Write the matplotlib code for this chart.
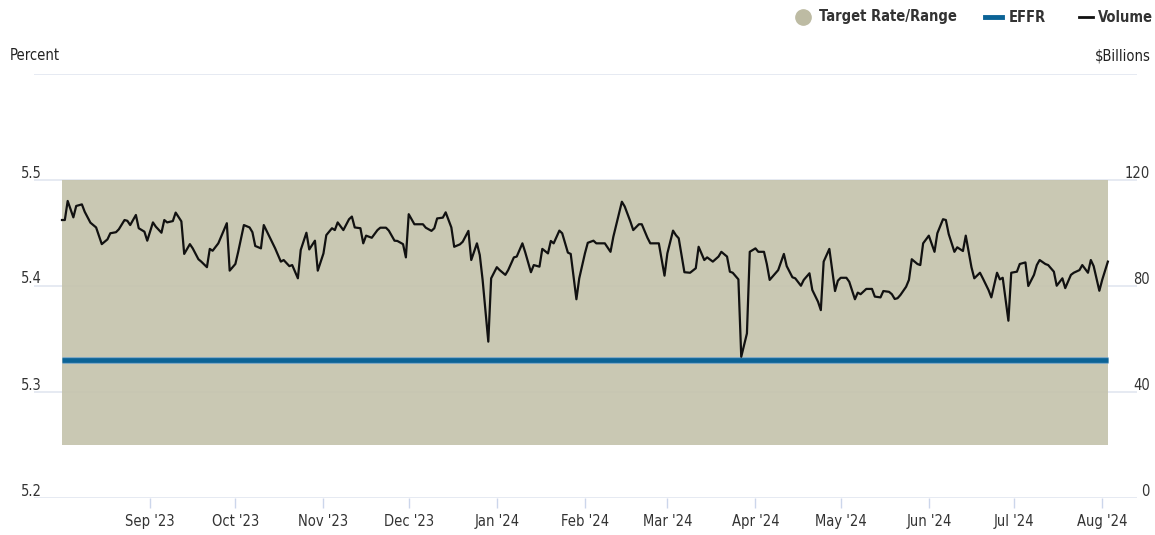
import pandas as pd
import numpy as np
import matplotlib
matplotlib.use('Agg')
import matplotlib.pyplot as plt
import matplotlib.dates as mdates
import matplotlib.transforms as mtrans
from matplotlib.lines import Line2D

plt.rcParams['font.family'] = ['DejaVu Sans']
plt.rcParams['font.stretch'] = 'condensed'

#daily volume ($Billions), days counted from Aug 1 2023
start = pd.Timestamp('2023-08-01')
days = [0, 1, 2, 4, 5, 7, 8, 10, 12, 14, 16, 17, 19, 20, 22, 23, 24, 26, 27, 29,
        30, 32, 33, 35, 36, 37, 39, 40, 42, 43, 45, 46, 48, 49, 51, 52, 53, 55, 56, 58,
        59, 61, 62, 64, 66, 67, 68, 70, 71,
        73, 75, 77, 78, 80, 81, 83, 84, 86, 87, 89, 90, 92, 93, 95, 96, 97, 99, 101, 102,
        103, 105, 106, 107, 109, 111, 112, 114, 115, 117, 118, 120, 121, 122, 124, 127, 128, 130, 131, 132,
        134, 135, 137, 138, 140, 141, 143, 144, 146,
        147, 148, 150, 151, 153, 154, 156, 157, 159, 160, 162, 163, 165, 166, 168, 169, 171, 172, 173, 175,
        176, 178, 179, 181, 182, 184, 185, 187, 188, 191, 193, 194, 196, 197, 198, 200, 201, 203, 204, 206,
        207, 210, 212, 213, 215, 216, 217, 219,
        221, 223, 224, 226, 227, 229, 231, 232, 234, 235, 236, 238, 239, 241, 242, 244, 245, 247, 248, 249,
        251, 252, 254, 255, 257, 258, 260, 261, 263, 264, 266, 267, 268, 270, 272, 273, 274, 276, 277, 279,
        280, 281, 283, 285, 286, 288, 289, 291, 292, 293,
        294, 295, 297, 298, 299, 301, 302, 303, 305, 307, 308, 310, 311, 312, 314, 315, 317, 318, 320, 321,
        323, 324, 326, 327, 329, 330, 331, 333, 334, 336, 337, 339, 340, 342, 343, 344, 346, 347, 349, 350,
        352, 353, 355, 356, 358, 359, 361, 362, 363, 365, 366, 368]
volume = [104.9, 104.9, 112.1, 105.9, 110.2, 110.8, 108, 103.9, 102.1, 95.8, 97.6, 99.9, 100.3, 101.4, 104.9, 104.6, 103, 106.8, 101.8, 100.5,
          97.1, 104, 102.4, 100.1, 104.9, 104, 104.5, 107.7, 104.4, 92.1, 95.8, 94.2, 90.1, 89.2, 87.1, 94, 93.3, 96.1, 98.6, 103.7,
          85.8, 88.3, 92.9, 103, 102.1, 100.3, 95.1, 94.2, 103,
          98.6, 94.2, 89.2, 89.8, 87.5, 87.9, 82.9, 93.6, 100.1, 93.8, 97.1, 85.8, 92.3, 99.2, 101.8, 101.1, 104, 101.1, 105.2, 106.2,
          102.1, 101.8, 96.1, 99, 98.2, 101.1, 102, 102, 100.9, 97.1, 97, 95.8, 90.8, 107.1, 103.3, 103.3, 102, 100.8, 101.8, 105.5,
          105.8, 107.8, 102.1, 94.8, 95.7, 96.7, 100.8, 89.8, 96.1,
          91.7, 82.3, 59, 82.9, 87.1, 86, 84.2, 86, 90.8, 91.1, 96.1, 92.7, 85.2, 87.9, 87.3, 94, 92.3, 97, 96.1, 100.9,
          99.9, 92.6, 92.1, 75, 82.9, 92.3, 96.3, 97.1, 96.1, 96.1, 92.9, 98.6, 107.4, 111.8, 110, 104.3, 101.1, 103.3, 103.3, 98.2,
          96.1, 96.1, 83.9, 92.3, 100.9, 99.2, 98, 85.2,
          85, 86.7, 94.8, 89.8, 90.8, 89.2, 91.1, 92.9, 91.1, 85.4, 85, 82.5, 53.3, 62.1, 92.9, 94.2, 92.9, 92.9, 88.3, 82.3,
          84.8, 86, 92.1, 87.5, 83.3, 82.9, 80.1, 82.3, 84.8, 78.5, 74.1, 70.9, 89.2, 94, 78.1, 82, 83.1, 83.1, 81.6, 75,
          77.5, 76.9, 78.9, 78.9, 76, 75.7, 78.1, 77.8, 76.9, 75.1,
          75.4, 76.6, 79.7, 82.3, 90.1, 88.3, 87.9, 96.1, 99, 92.9, 99.9, 105.2, 104.9, 99.6, 92.9, 94.6, 93.2, 99, 87.1, 82.9,
          85, 82.9, 78.5, 75.7, 85, 82.5, 83.1, 66.9, 85, 85.4, 88.3, 88.9, 80, 84.2, 87.9, 89.8, 88.3, 87.9, 85.4, 80.1,
          82.9, 79.2, 84.2, 85, 86, 87.9, 85, 89.8, 87.5, 78.2, 82.3, 89.2]

target_low = 5.25
target_high = 5.50
effr = 5.33

pct_ticks = [5.2, 5.3, 5.4, 5.5]
bil_ticks = [0, 40, 80, 120]
month_ticks = pd.date_range('2023-09-01', '2024-08-01', freq='MS')

dates = start + pd.to_timedelta(days, unit='D')
W, H = 1155, 535

fig = plt.figure(figsize=(W / 100, H / 100), dpi=100)
ax = fig.add_axes([34 / W, 37 / H, 1103 / W, 424 / H])
t0 = mdates.date2num(start)
ax.set_xlim(t0 - 9.85, t0 + 378.25)
ax.set_ylim(5.2, 5.6)

#target range band and EFFR
ax.fill_between(dates, target_low, target_high, color='#c4c2ab', alpha=0.9, lw=0, zorder=2)
ax.plot(dates, [effr] * len(dates), color='#7fa9c4', lw=5.0, zorder=3, solid_capstyle='butt')
ax.plot(dates, [effr] * len(dates), color='#0b6396', lw=3.4, zorder=3, solid_capstyle='butt')

ax.set_yticks(pct_ticks + [5.6])
ax.yaxis.grid(True, color='#e1e6f0', lw=1.2, zorder=1)
ax.set_axisbelow(True)
ax.tick_params(axis='y', length=0, labelleft=False)
ax.set_xticks(month_ticks)
ax.xaxis.set_major_formatter(mdates.DateFormatter("%b '%y"))
ax.tick_params(axis='x', length=7.5, width=1, color='#ccd6eb', pad=4, labelsize=10.5, labelcolor='#333333')
for s in ax.spines.values():
    s.set_visible(False)

ax2 = ax.twinx()
ax2.set_ylim(0, 160)
ax2.plot(dates, volume, color='#111111', lw=1.6, zorder=4)
ax2.set_yticks([])
for s in ax2.spines.values():
    s.set_visible(False)

#axis labels sitting above the grid lines
lab_tr = mtrans.offset_copy(ax.get_yaxis_transform(), fig=fig, x=0, y=7, units='dots')
for v in pct_ticks:
    ax.text(8 / 1103, v, f'{v:.1f}', transform=lab_tr, ha='right', va='center', fontsize=10.5, color='#333333')
lab_tr2 = mtrans.offset_copy(ax2.get_yaxis_transform(), fig=fig, x=0, y=7, units='dots')
for v in bil_ticks:
    ax2.text(1 + 13 / 1103, v, f'{v}', transform=lab_tr2, ha='right', va='center', fontsize=10.5, color='#333333')

fig.text(10 / W, 1 - 56 / H, 'Percent', va='center', fontsize=10.5, color='#222222')
fig.text(1151 / W, 1 - 56 / H, r'\$Billions', va='center', ha='right', fontsize=10.5, color='#222222')

#legend
ly = 1 - 17 / H
fig.add_artist(Line2D([803 / W], [ly], marker='o', markersize=11, color='#bdbba3', lw=0, transform=fig.transFigure))
fig.text(819 / W, ly, 'Target Rate/Range', va='center', fontsize=10.5, fontweight='bold', color='#333333')
fig.add_artist(Line2D([985 / W, 1002 / W], [ly, ly], color='#0b6396', lw=3.5, transform=fig.transFigure))
fig.text(1009 / W, ly, 'EFFR', va='center', fontsize=10.5, fontweight='bold', color='#333333')
fig.add_artist(Line2D([1079 / W, 1093 / W], [ly, ly], color='#111111', lw=2, transform=fig.transFigure))
fig.text(1098 / W, ly, 'Volume', va='center', fontsize=10.5, fontweight='bold', color='#333333')

fig.savefig('out.png', dpi=100)
